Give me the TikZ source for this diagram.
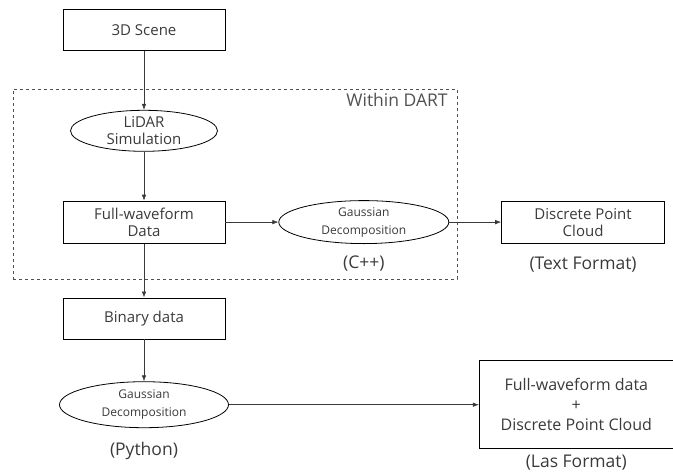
\documentclass[tikz,border=0pt]{standalone}
\usepackage{fontspec}
\setmainfont{Open Sans}
\usepackage{xcolor}
\usetikzlibrary{arrows.meta,positioning,shapes.geometric}
\definecolor{InkGray}{HTML}{3A3A3A}
\definecolor{FrameGray}{HTML}{505050}

\begin{document}
\begin{tikzpicture}[
  x=1pt, y=-1pt,
  node distance=50pt,
  box/.style={draw=black, line width=0.8pt, minimum width=162pt, minimum height=41pt,
              inner sep=0pt, align=center, text=InkGray, font=\fontsize{15}{17}\selectfont},
  oval/.style={ellipse, draw=black, line width=0.8pt, inner sep=0pt, align=center, text=InkGray},
  frame/.style={draw=FrameGray, dashed, line width=0.8pt, inner sep=0pt},
  note/.style={inner sep=0pt, text=InkGray, font=\fontsize{17.5}{20}\selectfont},
  arrow/.style={-{Latex[length=6pt, width=4.5pt]}, line width=0.6pt, draw=InkGray}
]
\useasboundingbox (0,0) rectangle (673,472);
\node[frame, minimum width=444pt, minimum height=190pt] (dart) at (235,184) {};
\node[note, text=FrameGray] (dartlabel) at (397,100) {Within DART};
\node[box] (scene) at (144,30) {3D Scene};
\node[oval, minimum width=147pt, minimum height=41pt, font=\fontsize{15}{17}\selectfont,
      below=59pt of scene] (lidar) {LiDAR\\Simulation};
\node[box, minimum height=42pt, below=49pt of lidar] (fwdata) {Full-waveform\\Data};
\node[oval, minimum width=170pt, minimum height=43pt, font=\fontsize{12}{18}\selectfont,
      right=53pt of fwdata] (gausscpp) {Gaussian\\Decomposition};
\node[box, minimum width=163pt, minimum height=42pt, right=52pt of gausscpp] (points) {Discrete Point\\Cloud};
\node[box, below=54pt of fwdata] (binary) {Binary data};
\node[oval, minimum width=169pt, minimum height=46pt, font=\fontsize{12}{18}\selectfont,
      below=42pt of binary] (gausspy) {Gaussian\\Decomposition};
\node[box, minimum width=194pt, minimum height=88pt, font=\fontsize{16}{20}\selectfont,
      right=250pt of gausspy] (las) {Full-waveform data\\+\\Discrete Point Cloud};
\node[note, below=12pt of gausscpp] (cpp) {(C++)};
\node[note, below=13pt of points] (textfmt) {(Text Format)};
\node[note, below=14pt of gausspy] (python) {(Python)};
\node[note, below=6pt of las] (lasfmt) {(Las Format)};
\draw[arrow] (scene) -- (lidar);
\draw[arrow] (lidar) -- (fwdata);
\draw[arrow] (fwdata) -- (gausscpp);
\draw[arrow] (gausscpp) -- (points);
\draw[arrow] (fwdata) -- (binary);
\draw[arrow] (binary) -- (gausspy);
\draw[arrow] (gausspy) -- (las);
\end{tikzpicture}
\end{document}
